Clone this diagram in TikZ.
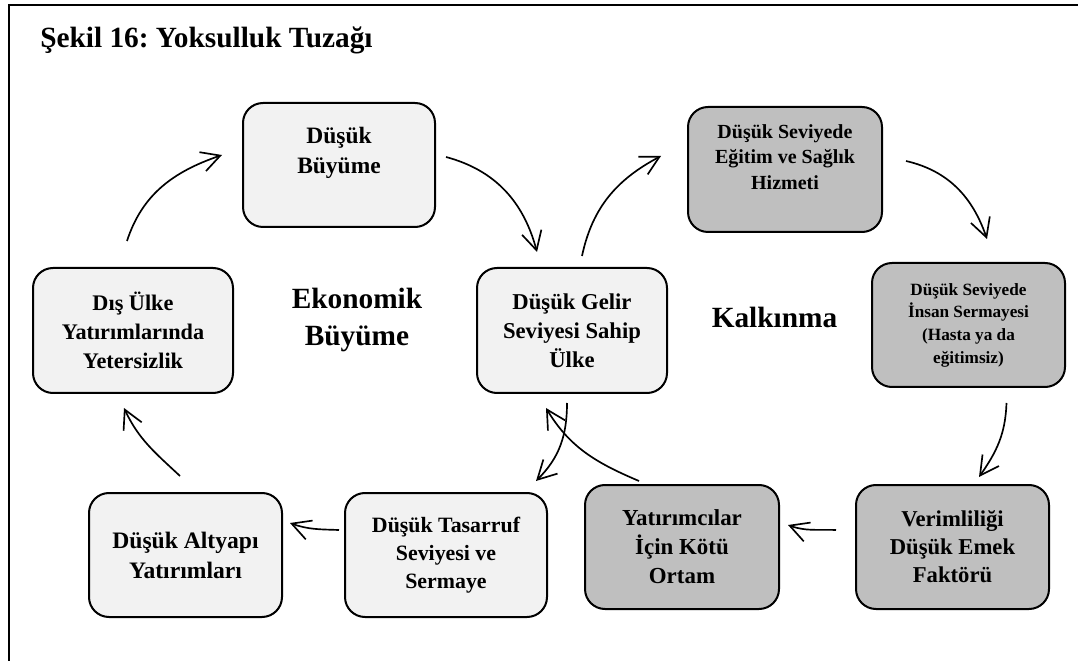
\documentclass[tikz,border=0pt]{standalone}
\usepackage{fontspec}
\setmainfont{Liberation Serif}
\usetikzlibrary{arrows.meta,calc}
\definecolor{lightfill}{HTML}{F2F2F2}
\definecolor{darkfill}{HTML}{BFBFBF}
\frenchspacing
\tikzset{
  box/.style={draw=black, line width=1.5pt, rounded corners=15pt, align=center, inner sep=0pt, font=\bfseries},
  light/.style={box, fill=lightfill},
  dark/.style={box, fill=darkfill},
  arr/.style={line width=1.25pt, -{Straight Barb[length=14pt,width=15pt,line width=1.25pt]}},
  fs/.style 2 args={font=\bfseries\fontsize{#1}{#2}\selectfont},
}
\begin{document}
\begin{tikzpicture}[x=0.75pt,y=0.75pt]
\fill[white] (0,0) rectangle (1078,661);
\useasboundingbox (0,0) rectangle (1078,661);
% frame
\draw[line width=1.5pt, line join=miter] (1078,655.5) -- (9,655.5) -- (9,0);
% title
\node[anchor=base west, fs={22pt}{26pt}, inner sep=0pt] (title) at (40,613) {Şekil 16: Yoksulluk Tuzağı};
% boxes
\node[light, fs={17.6pt}{22.5pt}, minimum width=192*0.75pt, minimum height=124*0.75pt] (b1) at (339,496) {Düşük\\Büyüme\\\mbox{}};
\node[dark, fs={15pt}{19.1pt}, minimum width=194*0.75pt, minimum height=125*0.75pt] (b2) at (785,491.5) {Düşük Seviyede\\Eğitim ve Sağlık\\Hizmeti\\\mbox{}};
\node[dark, fs={12.9pt}{17pt}, minimum width=193*0.75pt, minimum height=124*0.75pt] (b3) at (968.5,336) {Düşük Seviyede\\İnsan Sermayesi\\(Hasta ya da\\eğitimsiz)};
\node[dark, fs={17pt}{21pt}, minimum width=193*0.75pt, minimum height=124*0.75pt] (b4) at (952.5,114) {Verimliliği\\Düşük Emek\\Faktörü};
\node[dark, fs={17.2pt}{21.75pt}, minimum width=194*0.75pt, minimum height=124*0.75pt] (b5) at (682,114) {Yatırımcılar\\İçin Kötü\\Ortam};
\node[light, fs={16.4pt}{21pt}, minimum width=202*0.75pt, minimum height=124*0.75pt] (b6) at (446,106) {Düşük Tasarruf\\Seviyesi ve\\Sermaye};
\node[light, fs={17.7pt}{22.5pt}, minimum width=193*0.75pt, minimum height=124*0.75pt] (b7) at (185.5,106) {Düşük Altyapı\\Yatırımları};
\node[light, fs={16.7pt}{21.75pt}, minimum width=200*0.75pt, minimum height=125*0.75pt] (b8) at (133,330.5) {Dış Ülke\\Yatırımlarında\\Yetersizlik};
\node[light, fs={17pt}{21.75pt}, minimum width=190*0.75pt, minimum height=125*0.75pt] (b9) at (572,330.5) {Düşük Gelir\\Seviyesi Sahip\\Ülke};
% free labels
\node[align=center, fs={22pt}{27.75pt}, inner sep=0pt] (eko) at (357,341.3) {Ekonomik\\Büyüme};
\node[anchor=base, fs={22pt}{26pt}, inner sep=0pt] (kal) at (774.5,333) {Kalkınma};
% arrows
\draw[arr] ([shift={(-6,26)}]b8.north) to[out=72,in=199] ([shift={(-20,10)}]b1.west);
\draw[arr] ([shift={(10,8)}]b1.east) to[out=-15,in=105] ([shift={(-35,15)}]b9.north);
\draw[arr] ([shift={(10,11)}]b9.north) to[out=78,in=208] ([shift={(-26,13.5)}]b2.west);
\draw[arr] ([shift={(23,8.5)}]b2.east) to[out=-13,in=109] ([shift={(18.5,23)}]b3.north);
\draw[arr] ([shift={(38,-15)}]b3.south) to[out=-92,in=55] ([shift={(26.5,7)}]b4.north);
\draw[arr] ([shift={(-19,17)}]b4.west) to[out=178,in=-20] ([shift={(8,22)}]b5.east);
\draw[arr] ([shift={(-43,3)}]b5.north) to[out=157,in=-59] ([shift={(-26,-14)}]b9.south);
\draw[arr] ([shift={(-5,-9)}]b9.south) to[out=-90,in=45] ([shift={(90,11)}]b6.north);
\draw[arr] ([shift={(-5,25)}]b6.west) to[out=178,in=-20] ([shift={(7,32)}]b7.east);
\draw[arr] ([shift={(-5.5,16)}]b7.north) to[out=137,in=-65] ([shift={(-9,-14)}]b8.south);
\end{tikzpicture}
\end{document}
